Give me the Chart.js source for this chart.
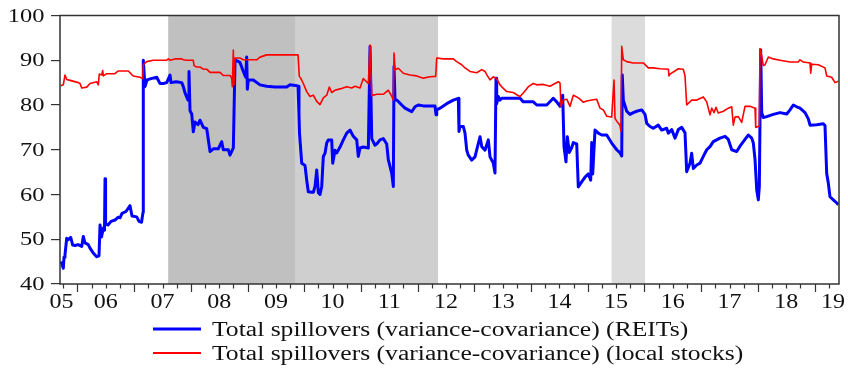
<!DOCTYPE html>
<html>
<head>
<meta charset="utf-8">
<script src="https://cdn.jsdelivr.net/npm/chart.js@4.4.1/dist/chart.umd.min.js"></script>
<style>
  html, body { margin: 0; padding: 0; background: #ffffff; }
  #wrap { width: 848px; height: 375px; position: relative; }
</style>
</head>
<body>
<div id="wrap"><canvas id="chart"></canvas></div>
<script>
// ---- Total spillover indices, dates as decimal years ----
const reitsDates = [
  2005.705,2005.727,2005.750,2005.763,2005.780,2005.810,2005.839,2005.881,2005.916,2005.957,
  2006.010,2006.075,2006.103,2006.133,2006.191,2006.221,2006.274,2006.339,2006.380,2006.398,
  2006.424,2006.456,2006.477,2006.486,2006.496,2006.539,2006.592,2006.662,2006.715,2006.750,
  2006.786,2006.856,2006.927,2006.962,2007.045,2007.086,2007.130,2007.156,2007.161,2007.191,
  2007.227,2007.297,2007.398,2007.456,2007.514,2007.574,2007.632,2007.650,2007.738,2007.839,
  2007.867,2007.897,2007.950,2007.967,2007.985,2008.015,2008.043,2008.073,2008.126,2008.161,
  2008.220,2008.280,2008.338,2008.396,2008.484,2008.544,2008.572,2008.661,2008.690,2008.749,
  2008.779,2008.832,2008.867,2008.925,2008.967,2008.985,2008.996,2009.013,2009.101,2009.220,
  2009.338,2009.484,2009.690,2009.749,2009.872,2009.890,2009.907,2009.916,2009.955,2010.013,
  2010.043,2010.071,2010.131,2010.160,2010.190,2010.220,2010.248,2010.278,2010.308,2010.336,
  2010.366,2010.396,2010.424,2010.484,2010.502,2010.542,2010.572,2010.631,2010.689,2010.749,
  2010.807,2010.865,2010.925,2010.953,2010.983,2011.041,2011.130,2011.160,2011.190,2011.248,
  2011.278,2011.336,2011.394,2011.454,2011.482,2011.542,2011.571,2011.583,2011.601,2011.631,
  2011.659,2011.719,2011.777,2011.835,2011.895,2011.953,2012.011,2012.100,2012.306,2012.324,
  2012.336,2012.394,2012.512,2012.629,2012.717,2012.729,2012.747,2012.805,2012.835,2012.865,
  2012.893,2012.953,2013.011,2013.070,2013.100,2013.130,2013.188,2013.246,2013.276,2013.334,
  2013.364,2013.382,2013.394,2013.422,2013.452,2013.482,2013.571,2013.805,2013.863,2014.040,
  2014.100,2014.276,2014.392,2014.452,2014.511,2014.558,2014.581,2014.616,2014.639,2014.675,
  2014.717,2014.745,2014.805,2014.833,2014.893,2014.952,2015.010,2015.052,2015.070,2015.087,
  2015.128,2015.186,2015.246,2015.334,2015.422,2015.511,2015.569,2015.599,2015.609,2015.627,
  2015.687,2015.745,2015.803,2015.863,2015.952,2016.010,2016.040,2016.098,2016.156,2016.244,
  2016.304,2016.392,2016.421,2016.481,2016.539,2016.597,2016.657,2016.715,2016.745,2016.803,
  2016.833,2016.862,2016.922,2016.980,2017.038,2017.098,2017.156,2017.214,2017.332,2017.421,
  2017.479,2017.539,2017.627,2017.685,2017.773,2017.832,2017.892,2017.920,2017.950,2017.980,
  2018.008,2018.026,2018.050,2018.068,2018.096,2018.156,2018.272,2018.391,2018.509,2018.567,
  2018.625,2018.685,2018.743,2018.832,2018.890,2018.920,2019.038,2019.154,2019.184,2019.214,
  2019.243,2019.272,2019.331,2019.391,2019.419
];
const reitsValues = [
  45.0,44.5,43.5,46.0,46.5,50.2,49.9,50.4,48.7,48.6,
  48.8,48.4,50.6,49.2,48.8,48.0,47.0,46.1,46.3,53.2,
  50.5,52.5,52.0,63.5,53.5,53.2,54.0,54.3,54.9,54.8,
  55.8,56.2,57.5,55.2,55.0,54.0,53.8,56.0,90.0,84.1,
  85.6,85.9,86.2,84.8,84.8,85.0,86.7,85.0,85.2,85.0,
  84.1,82.7,81.1,87.5,78.7,78.0,74.0,76.2,75.6,76.6,
  75.0,74.7,69.6,70.2,70.2,71.8,70.0,70.0,68.8,70.4,
  90.0,89.8,89.5,87.5,86.2,90.7,83.5,85.6,85.6,84.5,
  84.2,84.0,84.0,84.5,84.3,84.2,78.0,73.7,67.0,66.5,
  63.2,60.6,60.5,60.5,61.8,65.5,60.4,60.0,61.8,68.5,
  69.2,71.5,72.2,72.2,67.0,69.9,69.3,70.6,72.2,73.7,
  74.4,73.0,72.2,68.5,70.4,70.6,70.4,93.1,72.5,71.0,
  71.3,72.2,72.5,71.3,67.8,64.8,61.8,88.6,81.1,81.1,
  80.8,80.0,79.3,78.9,78.5,79.6,80.0,79.8,79.8,77.8,
  78.9,79.3,80.3,81.1,81.5,74.1,75.2,75.2,73.7,69.9,
  68.8,67.7,68.4,71.4,72.9,70.7,69.9,72.2,68.4,67.0,
  64.8,86.0,80.3,81.9,81.1,81.5,81.5,81.5,80.7,80.7,
  80.0,80.0,81.5,80.7,79.7,82.2,70.7,67.3,72.9,69.4,
  70.5,71.6,71.3,61.7,62.8,63.9,64.6,63.2,71.6,64.6,
  74.4,73.7,73.3,73.3,71.5,70.0,69.3,68.6,86.7,81.1,
  78.6,77.9,78.3,78.6,78.9,77.9,75.9,75.2,74.8,75.5,
  74.4,74.8,73.7,74.5,72.6,74.5,75.0,73.8,65.1,67.0,
  69.2,65.8,66.6,67.0,68.5,70.0,70.7,71.8,72.6,73.0,
  72.3,70.0,69.6,70.8,72.3,73.3,72.6,71.5,67.8,61.0,
  58.8,61.8,92.3,78.3,77.2,77.4,77.9,78.3,78.0,78.9,
  80.0,79.6,79.3,78.3,76.9,75.5,75.6,75.8,75.4,64.7,
  62.5,59.5,58.8,58.1,57.7
];

const stocksDates = [
  2005.705,2005.750,2005.780,2005.810,2005.869,2006.015,2006.045,2006.075,2006.163,2006.221,
  2006.339,2006.368,2006.385,2006.428,2006.445,2006.456,2006.516,2006.662,2006.715,2006.897,
  2006.927,2006.957,2006.985,2007.103,2007.151,2007.161,2007.221,2007.338,2007.574,2007.602,
  2007.632,2007.720,2007.839,2007.867,2007.927,2008.043,2008.056,2008.103,2008.161,2008.220,
  2008.280,2008.338,2008.514,2008.572,2008.690,2008.720,2008.731,2008.749,2008.761,2008.779,
  2008.867,2008.925,2009.161,2009.220,2009.338,2009.867,2009.890,2009.913,2009.937,2009.983,
  2010.043,2010.101,2010.160,2010.220,2010.278,2010.336,2010.396,2010.442,2010.484,2010.542,
  2010.631,2010.749,2010.837,2010.895,2010.983,2011.041,2011.130,2011.160,2011.190,2011.278,
  2011.394,2011.482,2011.542,2011.571,2011.583,2011.601,2011.659,2011.747,2011.865,2011.983,
  2012.100,2012.218,2012.318,2012.336,2012.452,2012.629,2012.689,2012.777,2012.835,2012.923,
  2013.041,2013.130,2013.188,2013.218,2013.276,2013.334,2013.394,2013.452,2013.511,2013.571,
  2013.687,2013.747,2013.805,2013.863,2013.952,2014.040,2014.100,2014.216,2014.334,2014.422,
  2014.481,2014.511,2014.528,2014.569,2014.629,2014.687,2014.745,2014.805,2014.863,2014.922,
  2014.982,2015.070,2015.158,2015.216,2015.274,2015.334,2015.422,2015.463,2015.481,2015.511,
  2015.569,2015.586,2015.599,2015.627,2015.687,2015.803,2015.980,2016.068,2016.156,2016.274,
  2016.421,2016.433,2016.451,2016.597,2016.685,2016.715,2016.745,2016.833,2016.922,2017.038,
  2017.098,2017.156,2017.186,2017.227,2017.262,2017.302,2017.391,2017.479,2017.539,2017.567,
  2017.597,2017.655,2017.715,2017.773,2017.862,2017.950,2017.962,2018.026,2018.038,2018.068,
  2018.096,2018.126,2018.184,2018.272,2018.391,2018.567,2018.713,2018.743,2018.802,2018.920,
  2018.932,2018.950,2019.066,2019.184,2019.214,2019.302,2019.361,2019.419
];
const stocksValues = [
  84.3,84.5,86.7,85.7,85.5,85.0,84.8,83.8,84.0,84.8,
  85.2,84.5,86.9,86.7,87.7,86.5,87.0,87.0,87.6,87.6,
  87.2,86.8,86.5,86.2,85.9,89.0,89.7,90.0,90.0,90.3,
  90.0,90.3,90.3,90.1,90.0,90.0,88.8,88.5,88.5,88.0,
  88.0,87.3,87.3,86.6,86.6,86.0,84.1,92.3,84.5,90.5,
  90.5,90.1,90.1,90.7,91.2,91.2,91.2,86.4,86.0,84.8,
  83.0,81.9,82.2,80.8,80.1,81.6,82.2,84.0,82.8,83.3,
  83.6,84.1,83.8,84.2,83.8,85.9,84.8,93.4,82.1,82.4,
  82.4,83.3,82.0,81.1,91.6,87.9,88.2,87.1,86.7,86.5,
  86.0,86.3,86.4,90.5,90.3,90.3,89.7,89.0,88.3,87.5,
  87.2,87.9,87.5,86.8,85.6,86.3,85.9,84.5,83.7,83.0,
  82.8,82.3,81.9,82.7,84.1,84.8,84.5,84.6,84.2,84.8,
  85.2,84.9,79.7,81.1,81.3,79.7,82.2,81.8,81.3,80.6,
  80.9,81.1,81.3,79.3,78.9,77.5,77.3,85.6,77.0,76.4,
  75.4,74.1,93.1,90.1,89.7,89.4,89.4,88.3,88.3,88.1,
  88.0,86.5,86.9,88.1,88.0,86.5,80.0,81.1,81.1,81.8,
  80.7,77.8,79.3,78.3,79.5,78.2,78.6,79.3,79.6,75.5,
  77.3,77.4,76.1,79.7,79.7,79.3,75.0,75.3,92.6,91.0,
  88.8,89.0,90.7,90.3,90.0,89.6,89.6,90.1,89.6,89.4,
  87.1,89.1,89.0,88.3,86.5,86.2,85.0,85.3
];

// Sample span and axes
const sampleStart = 2005.692;
const sampleEnd = 2019.431;
const yTickValues = [40, 50, 60, 70, 80, 90, 100];
const years = [2005,2006,2007,2008,2009,2010,2011,2012,2013,2014,2015,2016,2017,2018,2019];
const yearLabels = ['05','06','07','08','09','10','11','12','13','14','15','16','17','18','19'];

// Crisis periods shaded behind the lines
const crisisStart = [2007.60, 2009.85, 2015.42];
const crisisEnd   = [2009.85, 2012.36, 2016.01];

const seriesNames = [
  'Total spillovers (variance-covariance) (REITs)',
  'Total spillovers (variance-covariance) (local stocks)'
];

// ---- drawing ----
const SERIF = '"Liberation Serif", "Times New Roman", serif';
const crisisFill = ['#c0c0c0', '#cfcfcf', '#dcdcdc'];
const lineColors = ['#0000ff', '#ff0000'];

function toPoints(dates, values) {
  const n = Math.min(dates.length, values.length);
  const out = [];
  for (let i = 0; i < n; i++) out.push({ x: dates[i], y: values[i] });
  return out;
}

// text stretched horizontally, the way the printed figure sets its type
function wideText(ctx, txt, x, y, sx, align) {
  ctx.save();
  ctx.translate(x, y);
  ctx.scale(sx, 1);
  ctx.textAlign = align;
  ctx.textBaseline = 'alphabetic';
  ctx.fillText(txt, 0, 0);
  ctx.restore();
}

const decorations = {
  id: 'decorations',
  beforeDatasetsDraw(chart) {
    const { ctx, chartArea: a } = chart;
    const xs = chart.scales.x;
    ctx.save();
    for (let i = 0; i < crisisStart.length; i++) {
      const x0 = xs.getPixelForValue(crisisStart[i]);
      const x1 = xs.getPixelForValue(crisisEnd[i]);
      ctx.fillStyle = crisisFill[i];
      ctx.fillRect(x0, a.top, x1 - x0, a.bottom - a.top);
    }
    ctx.restore();
  },
  afterDatasetsDraw(chart) {
    const { ctx, chartArea: a } = chart;
    const xs = chart.scales.x;
    const ys = chart.scales.y;
    ctx.save();

    // frame
    ctx.strokeStyle = '#333333';
    ctx.lineWidth = 1.5;
    ctx.strokeRect(a.left, a.top, a.right - a.left, a.bottom - a.top);

    // quarterly tick marks, longer at each new year
    ctx.lineWidth = 1.2;
    ctx.beginPath();
    for (let q = Math.ceil(sampleStart * 4) / 4; q <= sampleEnd; q += 0.25) {
      const px = Math.round(xs.getPixelForValue(q)) + 0.5;
      const len = Math.abs(q - Math.round(q)) < 1e-6 ? 8 : 4.5;
      ctx.moveTo(px, a.bottom);
      ctx.lineTo(px, a.bottom + len);
    }
    ctx.stroke();

    ctx.fillStyle = '#111111';

    // value labels
    ctx.font = '18.5px ' + SERIF;
    yTickValues.forEach(v => {
      wideText(ctx, String(v), 44.5, ys.getPixelForValue(v) + 6.2, 1.32, 'right');
    });

    // year labels centred on each year
    ctx.font = '20px ' + SERIF;
    years.forEach((yr, i) => {
      let cx = xs.getPixelForValue(yr + 0.5);
      cx = Math.max(a.left + 1.5, Math.min(a.right - 6, cx));
      wideText(ctx, yearLabels[i], cx, a.bottom + 24, 1.2, 'center');
    });

    // legend
    const rows = [329, 353];
    const widths = [3, 2];
    rows.forEach((ry, i) => {
      ctx.strokeStyle = lineColors[i];
      ctx.lineWidth = widths[i];
      ctx.beginPath();
      ctx.moveTo(153, ry);
      ctx.lineTo(201, ry);
      ctx.stroke();
      ctx.fillStyle = '#111111';
      ctx.font = '20px ' + SERIF;
      wideText(ctx, seriesNames[i], 212, ry + 6.7, 1.28, 'left');
    });

    ctx.restore();
  }
};

new Chart(document.getElementById('chart'), {
  type: 'line',
  data: {
    datasets: [
      {
        label: seriesNames[0],
        data: toPoints(reitsDates, reitsValues),
        borderColor: lineColors[0],
        borderWidth: 3,
        borderJoinStyle: 'round',
        pointRadius: 0,
        tension: 0,
        order: 1
      },
      {
        label: seriesNames[1],
        data: toPoints(stocksDates, stocksValues),
        borderColor: lineColors[1],
        borderWidth: 1.6,
        borderJoinStyle: 'round',
        pointRadius: 0,
        tension: 0,
        order: 0
      }
    ]
  },
  options: {
    responsive: true,
    maintainAspectRatio: false,
    animation: false,
    layout: { padding: { top: 15.5, right: 9, left: 0, bottom: 0 } },
    plugins: { legend: { display: false }, tooltip: { enabled: false } },
    scales: {
      x: {
        type: 'linear',
        min: sampleStart,
        max: sampleEnd,
        grid: { display: false },
        border: { display: false },
        ticks: { display: false },
        afterFit(scale) { scale.height = 91; }
      },
      y: {
        min: 40,
        max: 100,
        afterBuildTicks(scale) { scale.ticks = yTickValues.map(v => ({ value: v })); },
        grid: { display: true, drawOnChartArea: false, drawTicks: true, tickLength: 9, color: '#333333', lineWidth: 1.2 },
        border: { display: false },
        ticks: { display: false },
        afterFit(scale) { scale.width = 60; }
      }
    }
  },
  plugins: [decorations]
});
</script>
</body>
</html>
